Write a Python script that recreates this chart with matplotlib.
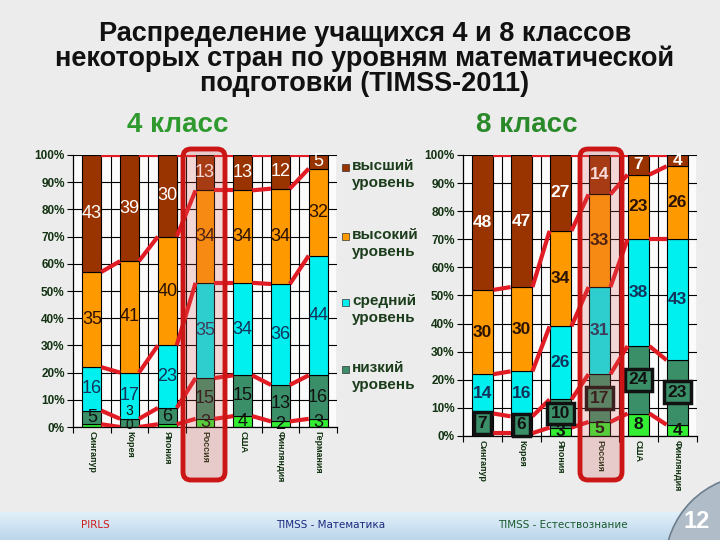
import numpy as np
import matplotlib
matplotlib.use("Agg")
import matplotlib.pyplot as plt
from matplotlib.patches import Rectangle, FancyBboxPatch, Circle
from matplotlib.transforms import IdentityTransform
from matplotlib.colors import LinearSegmentedColormap

plt.rcParams['font.family'] = ['Liberation Sans', 'DejaVu Sans']

# ---------------- data ----------------
countries4 = ['Сингапур', 'Корея', 'Япония', 'Россия', 'США', 'Финляндия', 'Германия']
below4 = [1, 0, 1, 3, 4, 2, 3]          # ниже низкого
low4 = [5, 3, 6, 15, 15, 13, 16]        # низкий
mid4 = [16, 17, 23, 35, 34, 36, 44]     # средний
high4 = [35, 41, 40, 34, 34, 34, 32]    # высокий
adv4 = [43, 39, 30, 13, 13, 12, 5]      # высший
below4_labels = ['', '0', '', '3', '4', '2', '3']

countries8 = ['Сингапур', 'Корея', 'Япония', 'Россия', 'США', 'Финляндия']
below8 = [1, 1, 3, 5, 8, 4]
low8 = [7, 6, 10, 17, 24, 23]
mid8 = [14, 16, 26, 31, 38, 43]
high8 = [30, 30, 34, 33, 23, 26]
adv8 = [48, 47, 27, 14, 7, 4]
below8_labels = ['', '', '3', '5', '8', '4']

legend_labels = ['высший\nуровень', 'высокий\nуровень', 'средний\nуровень', 'низкий\nуровень']
yticks = [0, 10, 20, 30, 40, 50, 60, 70, 80, 90, 100]
ytick_labels = ['0%', '10%', '20%', '30%', '40%', '50%', '60%', '70%', '80%', '90%', '100%']

# ---------------- style ----------------
C_BELOW = '#33ee33'
C_LOW = '#3a8f68'
C_MID = '#00f0f0'
C_HIGH = '#ff9900'
C_ADV = '#993300'
colors = [C_BELOW, C_LOW, C_MID, C_HIGH, C_ADV]
txt_colors = ['#111111', '#111111', '#13335a', '#2a1200', '#ffffff']
RED = '#e21c24'
DARKGREEN = '#123212'

W, H = 720, 540
fig = plt.figure(figsize=(7.2, 5.4), dpi=100, facecolor='#ececec')


def fx(px):
    return px / W


def fy(py):
    return 1 - py / H


# bottom band
band = fig.add_axes([0, 0, 1, 28 / H])
grad = np.linspace(0, 1, 50).reshape(-1, 1)
cmap = LinearSegmentedColormap.from_list('b', ['#bcd6ea', '#e2f0fa'])
band.imshow(grad, aspect='auto', cmap=cmap, origin='lower', extent=[0, 1, 0, 1])
band.set_axis_off()


def draw_chart(rect, cats, series, lbls_bottom, width, boxed, bold):
    ax = fig.add_axes(rect)
    ax.set_facecolor('#fbfbfb')
    data = np.array(series, dtype=float)
    data = data / data.sum(axis=0) * 100.0   # 100% stacked
    n = data.shape[1]
    x = np.arange(n)
    cum = np.vstack([np.zeros(n), np.cumsum(data, axis=0)])
    for k in range(5):
        ax.bar(x, data[k], width, bottom=cum[k], color=colors[k],
               edgecolor='black', linewidth=0.8, zorder=2)
    # series lines
    for k in range(1, 6):
        for i in range(n - 1):
            ax.plot([x[i] + width / 2, x[i + 1] - width / 2],
                    [cum[k, i], cum[k, i + 1]], color=RED, lw=3,
                    solid_capstyle='butt', zorder=3)
    # labels
    raw = np.array(series)
    base_fs = 12.5 if bold else 13
    for k in range(5):
        for i in range(n):
            if k == 0:
                s = lbls_bottom[i]
            else:
                s = str(raw[k, i])
            if not s:
                continue
            seg = data[k, i]
            yc = (cum[k, i] + cum[k + 1, i]) / 2
            fs = base_fs
            if not boxed and k <= 1 and seg < 4 and lbls_bottom[i] != '' and k == 1:
                yc = 6.0
                fs = 10
            if not boxed and k == 0 and seg < 1:
                yc = 0.8
                fs = 10
            kw = {}
            if boxed and k == 1:
                kw['bbox'] = dict(boxstyle='square,pad=0.2', fc=C_LOW,
                                  ec='#111111', lw=2.5)
            ax.text(x[i], yc, s, ha='center', va='center', fontsize=fs,
                    fontweight='bold' if bold else 'normal',
                    color=txt_colors[k], zorder=5, **kw)
    ax.set_xlim(-0.5, n - 0.5)
    ax.set_ylim(0, 100)
    ax.set_yticks(yticks)
    ax.set_yticklabels(ytick_labels, fontsize=8.5, fontweight='bold', color=DARKGREEN)
    ax.set_xticks(x)
    ax.set_xticklabels(cats, rotation=270, fontsize=6.5, fontweight='bold',
                       color=DARKGREEN, va='top', ha='center')
    ax.set_xticks(np.arange(n + 1) - 0.5, minor=True)
    ax.tick_params(axis='x', which='major', length=0, pad=3)
    ax.tick_params(axis='x', which='minor', length=4, direction='out', width=0.8)
    ax.tick_params(axis='y', length=4, direction='out', width=0.8, pad=2)
    ax.grid(axis='y', color='black', lw=0.8, zorder=1)
    for b in np.arange(n) + 0.5:
        ax.axvline(b, color='black', lw=0.8, zorder=1)
    for s in ['top', 'right']:
        ax.spines[s].set_visible(False)
    ax.spines['left'].set_linewidth(0.9)
    ax.spines['bottom'].set_linewidth(0.9)
    ax.set_axisbelow(True)
    return ax


ax4 = draw_chart([fx(73), fy(427), fx(337) - fx(73), fy(155) - fy(427)],
                 countries4, [below4, low4, mid4, high4, adv4], below4_labels,
                 0.5, False, False)
ax8 = draw_chart([fx(463), fy(436), fx(697) - fx(463), fy(155) - fy(436)],
                 countries8, [below8, low8, mid8, high8, adv8], below8_labels,
                 0.56, True, True)

# legend
leg_cols = [C_ADV, C_HIGH, C_MID, C_LOW]
leg_y = [168, 237, 303, 370]
for c, lab, yy in zip(leg_cols, legend_labels, leg_y):
    fig.add_artist(Rectangle((fx(342), fy(yy + 3)), 7 / W, 7 / H, facecolor=c,
                             edgecolor='#333333', lw=0.5, transform=fig.transFigure))
    fig.text(fx(352), fy(yy - 9), lab, ha='left', va='top', fontsize=11,
             fontweight='bold', color='#1c3d1c', linespacing=1.3)

# Russia highlight
for (x0, x1) in [(183, 225), (580, 622)]:
    p = FancyBboxPatch((x0, H - 480), x1 - x0, 480 - 149,
                       boxstyle='round,pad=0,rounding_size=8',
                       facecolor=(0.85, 0.35, 0.35, 0.22), edgecolor='#cc1515',
                       lw=3.5, transform=IdentityTransform(), zorder=10)
    fig.add_artist(p)

# titles
fig.text(0.507, fy(59), 'Распределение учащихся 4 и 8 классов\n'
         'некоторых стран по уровням математической\nподготовки (TIMSS-2011)',
         ha='center', va='center', fontsize=19.5, fontweight='bold',
         color='#111111', linespacing=0.95)
fig.text(fx(178), fy(125), '4 класс', ha='center', va='center', fontsize=20,
         color='#2e9a2e', fontweight='bold')
fig.text(fx(527), fy(125), '8 класс', ha='center', va='center', fontsize=20,
         color='#2a8a2a', fontweight='bold')

# footer
fig.add_artist(Circle((755, -25), 90, facecolor='#b0bcc8', edgecolor='#6d7e8e',
                      lw=1.2, transform=IdentityTransform(), zorder=6))
fig.text(fx(95), fy(525), 'PIRLS', ha='center', va='center', fontsize=7.5,
         color='#cc2020', family=['DejaVu Sans'], zorder=7)
fig.text(fx(331), fy(525), 'TIMSS - Математика', ha='center', va='center',
         fontsize=7.5, color='#1a2a80', family=['DejaVu Sans'], zorder=7)
fig.text(fx(563), fy(525), 'TIMSS - Естествознание', ha='center', va='center',
         fontsize=7.5, color='#1a5a30', family=['DejaVu Sans'], zorder=7)
fig.text(fx(697), fy(521), '12', ha='center', va='center', fontsize=17,
         color='white', fontweight='bold', zorder=7)

fig.savefig('out.png', dpi=100, facecolor=fig.get_facecolor())
